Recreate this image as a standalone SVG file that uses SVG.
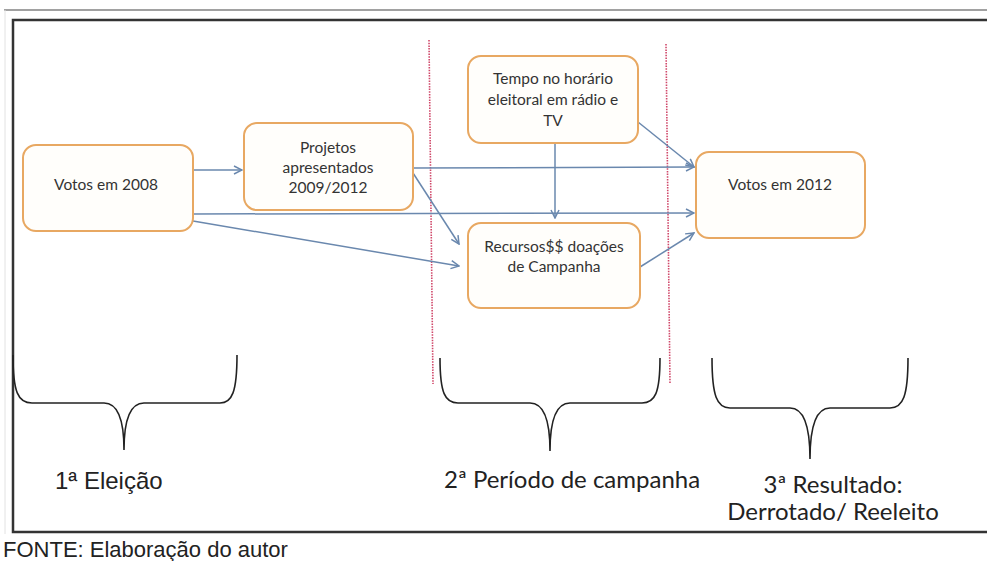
<svg xmlns="http://www.w3.org/2000/svg" width="987" height="561" viewBox="0 0 987 561">
<defs>
<marker id="arr" markerWidth="10" markerHeight="10" refX="9" refY="5" orient="auto" markerUnits="userSpaceOnUse">
<path d="M1,1 L9,5 L1,9" fill="none" stroke="#6a88ae" stroke-width="1.5"/>
</marker>
</defs>
<style>
.box{fill:#fffefb;stroke:#e8a862;stroke-width:2}
.nt{font-family:Lato,"Liberation Sans",sans-serif;font-size:15.5px;fill:#333;text-anchor:middle}
.con{fill:none;stroke:#6a88ae;stroke-width:1.5;marker-end:url(#arr)}
.red{stroke:#d0486a;stroke-width:1.6;stroke-dasharray:1.5 1.2;fill:none}
.brace{fill:none;stroke:#222;stroke-width:1.6}
.lab{font-family:Lato,"Liberation Sans",sans-serif;font-size:24px;fill:#222}
.arial{font-family:"Liberation Sans",Arial,sans-serif;fill:#222}
</style>
<rect width="987" height="561" fill="#fff"/>
<g id="frame">
<line x1="4" y1="10" x2="987" y2="10" stroke="#444" stroke-width="1.2"/>
<line x1="5" y1="10" x2="5" y2="534" stroke="#e2e2e2" stroke-width="1"/>
<path d="M990,20 L13,20 L13,532 L990,532" fill="none" stroke="#333" stroke-width="2.5"/>
</g>
<g id="dividers">
<line class="red" x1="429" y1="40" x2="433" y2="384"/>
<line class="red" x1="666" y1="44" x2="670" y2="384"/>
</g>
<g id="connectors">
<path class="con" d="M193,170 L242,170"/>
<path class="con" d="M413,168 L694,167"/>
<path class="con" d="M193,214 L694,213"/>
<path class="con" d="M193,221 L459,266"/>
<path class="con" d="M413,173 L459,244"/>
<path class="con" d="M555,143 L555,218"/>
<path class="con" d="M638,122 L694,167"/>
<path class="con" d="M640,267 L694,233"/>
</g>
<g id="votos2008">
<rect class="box" x="23" y="145" width="170" height="86" rx="13"/>
<text class="nt" x="106" y="190">Votos em 2008</text>
</g>
<g id="projetos">
<rect class="box" x="244" y="123" width="169" height="87" rx="13"/>
<text class="nt" x="328" y="153">Projetos</text>
<text class="nt" x="328" y="173">apresentados</text>
<text class="nt" x="328" y="193">2009/2012</text>
</g>
<g id="tempo">
<rect class="box" x="468" y="56" width="170" height="87" rx="13"/>
<text class="nt" x="553" y="84">Tempo no horário</text>
<text class="nt" x="553" y="105">eleitoral em rádio e</text>
<text class="nt" x="553" y="126">TV</text>
</g>
<g id="recursos">
<rect class="box" x="468" y="223" width="172" height="85" rx="13"/>
<text class="nt" x="554" y="252">Recursos$$ doações</text>
<text class="nt" x="554" y="272">de Campanha</text>
</g>
<g id="votos2012">
<rect class="box" x="696" y="152" width="169" height="86" rx="13"/>
<text class="nt" x="780" y="190">Votos em 2012</text>
</g>
<g id="braces">
<path class="brace" d="M13,355 C13,392 18,403 32,403 L104,403 C117,403 124,418 124,450 C124,418 131,403 144,403 L220,403 C232,403 237,392 237,355"/>
<path class="brace" d="M440,358 C440,393 445,403 458,403 L530,403 C543,403 550,418 550,451 C550,418 557,403 570,403 L642,403 C655,403 660,393 660,358"/>
<path class="brace" d="M712,358 C712,396 717,408 730,408 L790,408 C803,408 810,424 810,459 C810,424 817,408 830,408 L890,408 C903,408 908,396 908,358"/>
</g>
<g id="labels">
<text class="arial" x="55" y="489" font-size="24">1ª Eleição</text>
<text class="lab" x="444" y="488">2ª Período de campanha</text>
<text class="lab" x="833" y="493" text-anchor="middle">3ª Resultado:</text>
<text class="lab" x="833" y="520" text-anchor="middle">Derrotado/ Reeleito</text>
<text class="arial" x="3" y="557" font-size="22">FONTE: Elaboração do autor</text>
</g>
</svg>
